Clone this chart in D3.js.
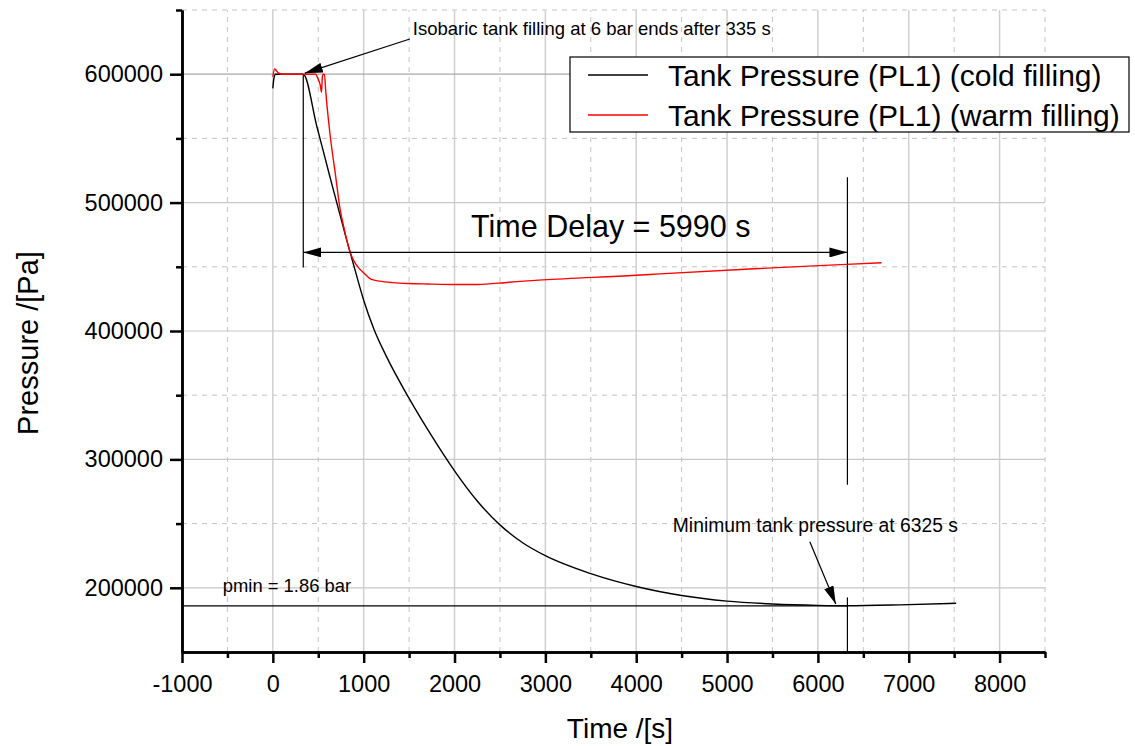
<!DOCTYPE html>
<html>
<head>
<meta charset="utf-8">
<script src="https://cdn.jsdelivr.net/npm/d3@7"></script>
<style>
  body { margin: 0; background: #fff; }
  text { font-family: Arial, "Liberation Sans", sans-serif; fill: #000; }
</style>
</head>
<body>
<div id="chart"></div>
<script>
// Data (time in s, pressure in Pa)
const coldTime = [0, 10, 30, 335, 484, 627, 811, 903, 1000, 1112, 1250, 1500, 1750, 2000, 2250, 2500, 2750, 3000, 3500, 4000, 4500, 5000, 5500, 6000, 6325, 6900, 7522];
const coldPressure = [589000, 596000, 600000, 600000, 559500, 520500, 471400, 448000, 424000, 401600, 380200, 347500, 318100, 291100, 267600, 249000, 235100, 225000, 211000, 201000, 194000, 189600, 187400, 186300, 186000, 186700, 188000];

const warmTime = [0, 20, 60, 100, 470, 500, 520, 536, 545, 554, 568, 583, 627, 693, 737, 782, 826, 859, 892, 936, 1002, 1086, 1178, 1321, 1500, 1700, 2000, 2250, 2600, 2970, 4000, 4260, 5250, 6314, 6700];
const warmPressure = [598000, 604000, 601000, 600000, 600000, 596000, 592000, 586000, 598000, 600000, 600000, 586000, 554800, 519700, 496300, 480700, 467500, 459700, 454600, 449900, 445200, 440200, 438800, 437700, 437000, 436600, 436200, 436200, 438000, 439800, 443400, 444500, 448300, 451900, 453200];

const xMajorTicks = [-1000, 0, 1000, 2000, 3000, 4000, 5000, 6000, 7000, 8000];
const xMinorTicks = [-500, 500, 1500, 2500, 3500, 4500, 5500, 6500, 7500, 8500];
const yMajorTicks = [200000, 300000, 400000, 500000, 600000];
const yMinorTicks = [250000, 350000, 450000, 550000, 650000];

const legendLabels = ['Tank Pressure (PL1) (cold filling)', 'Tank Pressure (PL1) (warm filling)'];
const seriesColors = ['#000000', '#ff0000'];

// Annotations (data units)
const fillEnd = 335;
const minTime = 6325;
const pMin = 186000;
const delayText = 'Time Delay = 5990 s';
const fillText = 'Isobaric tank filling at 6 bar ends after 335 s';
const minText = 'Minimum tank pressure at 6325 s';
const pminText = 'pmin = 1.86 bar';

// Layout
const [width, height] = [1135, 746];
const margin = { left: 182, top: 10, right: 90, bottom: 94 };

const svg = d3.select('#chart')
  .append('svg')
  .attr('width', width)
  .attr('height', height);

const x = d3.scaleLinear()
  .domain([-1000, 8500])
  .range([margin.left, width - margin.right]);

const y = d3.scaleLinear()
  .domain([150000, 650000])
  .range([height - margin.bottom, margin.top]);

// Grid
const grid = svg.append('g');
grid.selectAll('.vmin').data(xMinorTicks).enter().append('line')
  .attr('x1', (d) => x(d)).attr('x2', (d) => x(d))
  .attr('y1', y(150000)).attr('y2', y(650000))
  .attr('stroke', '#c4c4c4').attr('stroke-dasharray', '5,5');
grid.selectAll('.hmin').data(yMinorTicks).enter().append('line')
  .attr('x1', x(-1000)).attr('x2', x(8500))
  .attr('y1', (d) => y(d)).attr('y2', (d) => y(d))
  .attr('stroke', '#c4c4c4').attr('stroke-dasharray', '5,5');
grid.selectAll('.vmaj').data(xMajorTicks).enter().append('line')
  .attr('x1', (d) => x(d)).attr('x2', (d) => x(d))
  .attr('y1', y(150000)).attr('y2', y(650000))
  .attr('stroke', '#d0d0d0').attr('stroke-width', 1.5);
grid.selectAll('.hmaj').data(yMajorTicks).enter().append('line')
  .attr('x1', x(-1000)).attr('x2', x(8500))
  .attr('y1', (d) => y(d)).attr('y2', (d) => y(d))
  .attr('stroke', (d) => (d === 600000 ? '#a8a8a8' : '#c8c8c8')).attr('stroke-width', 1.2);

// Arrow marker
svg.append('defs').append('marker')
  .attr('id', 'head')
  .attr('markerUnits', 'userSpaceOnUse')
  .attr('viewBox', '0 0 18 10')
  .attr('refX', 18).attr('refY', 5)
  .attr('markerWidth', 18).attr('markerHeight', 10)
  .attr('orient', 'auto-start-reverse')
  .append('path')
  .attr('d', 'M0,0 L18,5 L0,10 Z')
  .attr('fill', '#000');

// Series
const line = d3.line()
  .x((d) => x(d[0]))
  .y((d) => y(d[1]))
  .curve(d3.curveMonotoneX);

svg.append('line')
  .attr('x1', x(-1000)).attr('x2', x(minTime))
  .attr('y1', y(pMin)).attr('y2', y(pMin))
  .attr('stroke', '#000').attr('stroke-width', 1.2);

svg.append('path')
  .datum(d3.zip(coldTime, coldPressure))
  .attr('d', line)
  .attr('fill', 'none')
  .attr('stroke', seriesColors[0])
  .attr('stroke-width', 1.4);

svg.append('path')
  .datum(d3.zip(warmTime, warmPressure))
  .attr('d', line)
  .attr('fill', 'none')
  .attr('stroke', seriesColors[1])
  .attr('stroke-width', 1.4);

// Annotation marks
const ann = svg.append('g').attr('stroke', '#000').attr('stroke-width', 1.2);
ann.append('line')
  .attr('x1', x(fillEnd)).attr('x2', x(fillEnd))
  .attr('y1', y(600000)).attr('y2', y(449500));
ann.append('line')
  .attr('x1', x(minTime)).attr('x2', x(minTime))
  .attr('y1', y(519700)).attr('y2', y(280300));
ann.append('line')
  .attr('x1', x(minTime)).attr('x2', x(minTime))
  .attr('y1', y(192500)).attr('y2', y(150000));
ann.append('line')
  .attr('x1', x(fillEnd)).attr('x2', x(minTime))
  .attr('y1', y(461200)).attr('y2', y(461200))
  .attr('marker-start', 'url(#head)')
  .attr('marker-end', 'url(#head)');
ann.append('line')
  .attr('x1', x(1508)).attr('x2', x(352))
  .attr('y1', y(627400)).attr('y2', y(600800))
  .attr('marker-end', 'url(#head)');
ann.append('line')
  .attr('x1', x(5911)).attr('x2', x(6197))
  .attr('y1', y(235800)).attr('y2', y(187400))
  .attr('marker-end', 'url(#head)');

svg.append('text')
  .attr('x', x(3720)).attr('y', y(472900))
  .attr('text-anchor', 'middle')
  .style('font-size', '30.5px')
  .text(delayText);
svg.append('text')
  .attr('x', x(1541)).attr('y', y(635200))
  .attr('dy', '0.35em')
  .style('font-size', '18.5px')
  .text(fillText);
svg.append('text')
  .attr('x', x(4403)).attr('y', y(249000))
  .attr('dy', '0.35em')
  .style('font-size', '19.3px')
  .text(minText);
svg.append('text')
  .attr('x', x(-551)).attr('y', y(201500))
  .attr('dy', '0.35em')
  .style('font-size', '18.4px')
  .text(pminText);

// Axes
const drawAxis = (g) => {
  g.selectAll('.domain').attr('stroke-width', 2.5);
  g.selectAll('.tick line').attr('stroke-width', 2.5);
  g.selectAll('text').style('font-size', '23.5px').attr('fill', '#000');
};

svg.append('g')
  .attr('transform', `translate(0,${y(150000)})`)
  .call(d3.axisBottom(x).tickValues(xMinorTicks).tickSize(6).tickSizeOuter(0).tickFormat(''))
  .call(drawAxis);
svg.append('g')
  .attr('transform', `translate(0,${y(150000)})`)
  .call(d3.axisBottom(x).tickValues(xMajorTicks).tickSize(11).tickSizeOuter(0).tickPadding(12).tickFormat((d) => String(d)))
  .call(drawAxis);

svg.append('g')
  .attr('transform', `translate(${x(-1000)},0)`)
  .call(d3.axisLeft(y).tickValues(yMinorTicks).tickSize(6).tickSizeOuter(0).tickFormat(''))
  .call(drawAxis);
svg.append('g')
  .attr('transform', `translate(${x(-1000)},0)`)
  .call(d3.axisLeft(y).tickValues(yMajorTicks).tickSize(12).tickSizeOuter(0).tickPadding(7).tickFormat((d) => String(d)))
  .call(drawAxis);

svg.append('text')
  .attr('x', 620).attr('y', 738)
  .attr('text-anchor', 'middle')
  .style('font-size', '28px')
  .text('Time /[s]');

svg.append('text')
  .attr('transform', 'translate(38,343) rotate(-90)')
  .attr('text-anchor', 'middle')
  .style('font-size', '29px')
  .text('Pressure /[Pa]');

// Legend
const legend = svg.append('g').attr('transform', 'translate(570,57)');
legend.append('rect')
  .attr('width', 559).attr('height', 75)
  .attr('fill', '#fff').attr('stroke', '#000').attr('stroke-width', 1.2);
const items = legend.selectAll('.item')
  .data(legendLabels)
  .enter().append('g')
  .attr('transform', (d, i) => `translate(0,${18 + i * 40})`);
items.append('line')
  .attr('x1', 18).attr('x2', 78)
  .attr('stroke', (d, i) => seriesColors[i])
  .attr('stroke-width', 1.4);
items.append('text')
  .attr('x', 98).attr('dy', '0.35em')
  .style('font-size', '30px')
  .text((d) => d);
</script>
</body>
</html>
